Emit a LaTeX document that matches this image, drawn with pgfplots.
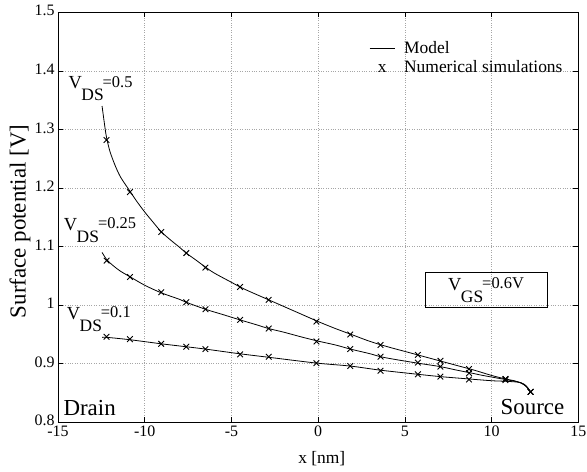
\documentclass[border=0pt]{standalone}
\usepackage{pgfplots}
\pgfplotsset{compat=1.18}
\usepackage{fontspec}
\setmainfont{Liberation Serif}
\newcommand{\fs}[1]{\fontsize{#1}{#1}\selectfont}
\newcommand{\vlab}[2]{{\fs{18.5}V\kern-0.5bp\raisebox{-12bp}{\fs{17.5}#1}\kern-1bp\raisebox{1.5bp}{\fs{16.5}#2}}}
\begin{document}
\begin{tikzpicture}
\begin{axis}[
  at={(0,0)}, anchor=south west,
  width=520.3bp, height=410bp, scale only axis,
  xmin=-15, xmax=15, ymin=0.8, ymax=1.5,
  xtick={-15,-10,-5,0,5,10,15},
  xticklabels={-15,-10,-5,0,5,10,15},
  ytick={0.8,0.9,1.0,1.1,1.2,1.3,1.4,1.5},
  yticklabels={0.8,0.9,1,1.1,1.2,1.3,1.4,1.5},
  grid=major,
  major grid style={dotted, gray!70, line width=0.6pt},
  tick align=inside,
  major tick length=5bp,
  tick style={black, line width=0.6pt},
  axis line style={black, line width=0.8pt},
  tick label style={font=\fs{16}},
  yticklabel style={yshift=1.5bp},
  xlabel={x [nm]},
  ylabel={Surface potential [V]},
  xlabel style={font=\fs{17.5}, at={(axis description cs:0.507,0)}, anchor=center, yshift=-36bp},
  ylabel style={font=\fs{23}, at={(axis description cs:-0.073,0.49)}, anchor=center},
  legend style={draw=none, fill=none, at={(axis description cs:0.598,0.931)}, anchor=north west,
    font=\fs{17.5}, inner sep=0pt, row sep=3bp, column sep=8bp, nodes={inner sep=1pt}},
  legend cell align=left,
]
% Model curves
\addplot[black, line width=0.8pt, smooth, forget plot] coordinates {
(-12.46,1.340) (-12.3,1.305) (-12.2,1.286) (-12.0,1.262) (-11.7,1.238) (-11.4,1.219)
(-11.0,1.201) (-10.86,1.195) (-10.5,1.179) (-10.0,1.159) (-9.5,1.141) (-9.04,1.125)
(-8.5,1.111) (-8.0,1.099) (-7.61,1.089) (-7.0,1.076) (-6.5,1.065) (-6.0,1.055)
(-5.0,1.039) (-4.5,1.031) (-4.0,1.024) (-3.0,1.011) (-2.0,0.998) (-1.0,0.985)
(0.0,0.972) (1.0,0.960) (2.0,0.949) (3.0,0.938) (4.0,0.929) (5.0,0.921) (6.0,0.913)
(7.0,0.905) (8.0,0.897) (9.0,0.889) (10.0,0.880) (10.8,0.874) (11.3,0.871)
(11.7,0.867) (12.0,0.861) (12.25,0.852)};
\addplot[black, line width=0.8pt, smooth, forget plot] coordinates {
(-12.46,1.090) (-12.17,1.077) (-11.8,1.067) (-11.4,1.058) (-10.82,1.048) (-10.0,1.034)
(-9.04,1.021) (-8.0,1.010) (-7.61,1.005) (-6.5,0.993) (-5.5,0.984) (-4.52,0.975)
(-3.5,0.966) (-2.85,0.960) (-2.0,0.954) (-1.0,0.946) (-0.06,0.939) (1.0,0.932)
(1.86,0.925) (3.0,0.917) (3.59,0.912) (4.5,0.907) (5.74,0.901) (7.05,0.895) (8.0,0.889)
(8.69,0.885) (9.5,0.880) (10.8,0.873) (11.5,0.869) (11.9,0.864) (12.25,0.852)};
\addplot[black, line width=0.8pt, smooth, forget plot] coordinates {
(-12.46,0.945) (-12.17,0.945) (-10.86,0.941) (-9.04,0.934) (-7.61,0.929) (-6.5,0.925)
(-4.52,0.917) (-2.85,0.911) (-0.06,0.901) (1.86,0.896) (3.59,0.889) (5.74,0.882)
(7.05,0.878) (8.69,0.874) (10.0,0.871) (10.8,0.870) (11.65,0.868) (12.0,0.862) (12.25,0.852)};
% Numerical simulations
\addplot[black, only marks, mark=x, mark size=4bp, line width=0.9pt, forget plot] coordinates {
(-12.2,1.282) (-10.85,1.193) (-9.05,1.125) (-7.6,1.089) (-6.5,1.064) (-4.5,1.031)
(-2.85,1.009) (-0.1,0.972) (1.85,0.950) (3.6,0.932) (5.75,0.915) (7.05,0.905)
(8.7,0.891) (10.8,0.874) (12.25,0.852)};
\addplot[black, only marks, mark=x, mark size=4bp, line width=0.9pt, forget plot] coordinates {
(-12.2,1.076) (-10.85,1.048) (-9.05,1.022) (-7.6,1.005) (-6.5,0.993) (-4.5,0.975)
(-2.85,0.960) (-0.1,0.938) (1.85,0.925) (3.6,0.912) (5.75,0.902) (7.05,0.895)
(8.7,0.884) (10.8,0.874) (12.25,0.852)};
\addplot[black, only marks, mark=x, mark size=4bp, line width=0.9pt, forget plot] coordinates {
(-12.2,0.946) (-10.85,0.942) (-9.05,0.934) (-7.6,0.929) (-6.5,0.925) (-4.5,0.916)
(-2.85,0.912) (-0.1,0.901) (1.85,0.896) (3.6,0.888) (5.75,0.882) (7.05,0.878)
(8.7,0.873) (10.8,0.872) (12.25,0.852)};
% legend
\addlegendimage{legend image code/.code={\draw[black, line width=0.8pt] (0bp,0bp) -- (25bp,0bp);}}
\addlegendentry{Model}
\addlegendimage{legend image code/.code={\node[inner sep=0pt, anchor=base] at (12.5bp,-5bp) {\fs{17.5}x};}}
\addlegendentry{Numerical simulations}
% text labels
\node[anchor=base west, inner sep=0pt] at (axis cs:-14.40,1.3695) {\vlab{DS}{=0.5}};
\node[anchor=base west, inner sep=0pt] at (axis cs:-14.67,1.128) {\vlab{DS}{=0.25}};
\node[anchor=base west, inner sep=0pt] at (axis cs:-14.50,0.976) {\vlab{DS}{=0.1}};
\node[draw=black, line width=0.8pt, minimum width=122bp, minimum height=35bp, inner sep=0pt] at (axis cs:9.68,1.026) {\raisebox{5bp}{\vlab{GS}{=0.6V}}};
\node[anchor=base west, inner sep=0pt, font=\fs{23}] at (axis cs:-14.69,0.811) {Drain};
\node[anchor=base west, inner sep=0pt, font=\fs{23}] at (axis cs:10.51,0.8125) {Source};
\end{axis}
\pgfresetboundingbox
\path[use as bounding box] (-58bp,-49.7bp) rectangle (529bp,422.3bp);
\end{tikzpicture}
\end{document}
